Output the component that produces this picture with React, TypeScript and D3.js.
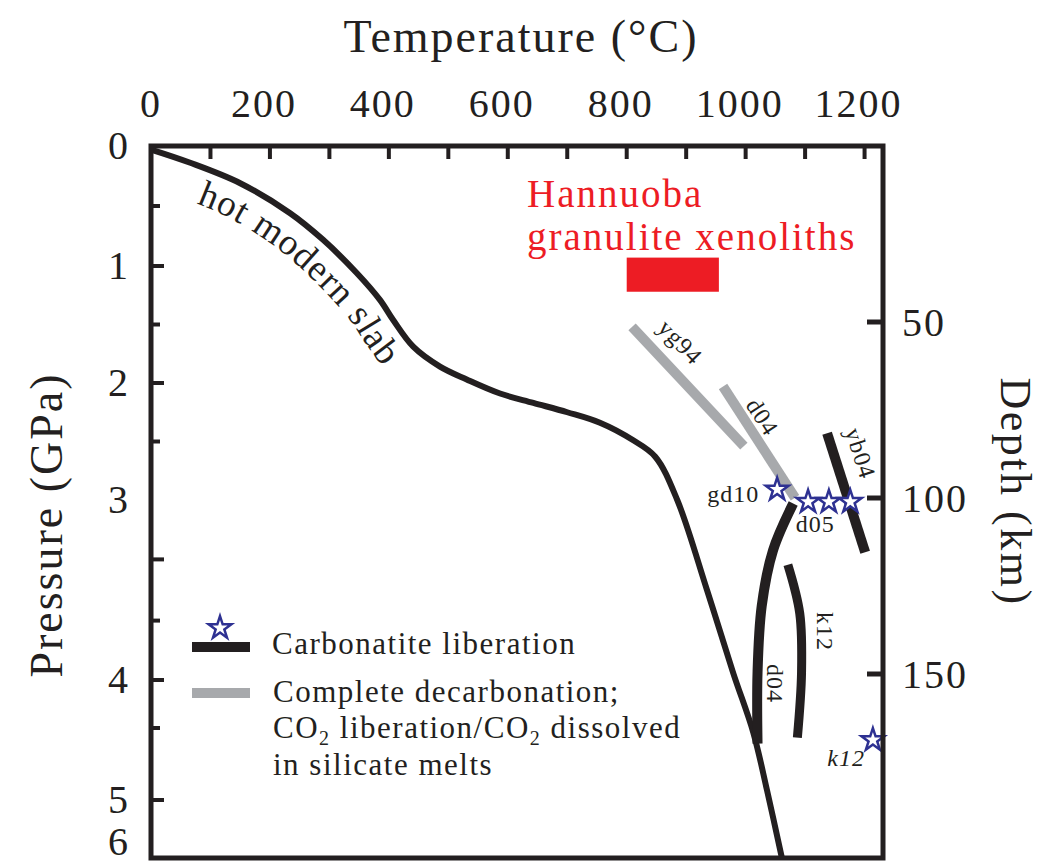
import React from "react";
import * as d3 from "d3";

// ---------- data ----------
const tempLabels = [0, 200, 400, 600, 800, 1000, 1200];
const tempTicks = [100, 200, 300, 400, 500, 600, 700, 800, 900, 1000, 1100, 1200];
const pressureLabels = [0, 1, 2, 3, 4, 5, 6];
const pressureMajor = [1, 2, 3.33, 4, 5];
const pressureMinor = [0.5, 1.5, 2.5, 3.67, 4.4];
const depthTicks = [50, 100, 150];

// [T (°C), P (GPa)]
const hotSlab: [number, number][] = [
  [0, 0.03], [66, 0.14], [150, 0.31], [234, 0.56], [289, 0.78], [346, 1.06],
  [385, 1.29], [407, 1.46], [441, 1.69], [486, 1.86], [531, 1.97], [587, 2.09],
  [643, 2.17], [700, 2.25], [755, 2.34], [811, 2.49], [848, 2.63], [885, 3.0],
  [935, 3.5], [979, 3.96], [1013, 4.44], [1036, 4.92], [1061, 6.0],
];
const yg94Gray: [number, number][] = [[809, 1.52], [997, 2.54]];
const d04Gray: [number, number][] = [[962, 2.03], [1083, 2.98]];
const yb04Black: [number, number][] = [[1137, 2.43], [1201, 3.29]];
const d04Black: [number, number][] = [[1080, 3.02], [1046, 3.28], [1027, 3.59], [1020, 3.96], [1020, 4.53]];
const k12Black: [number, number][] = [[1071, 3.36], [1091, 3.63], [1094, 3.96], [1087, 4.48]];
const starPoints: [number, number][] = [[1053, 2.91], [1105, 3.01], [1140, 3.01], [1176, 3.01], [1214, 4.5]];
const hannuobaT = [800, 955];
const hannuobaP = [0.93, 1.22];

// ---------- styles ----------
const BLACK = "#231F20";
const GRAY = "#A7A9AC";
const RED = "#ED1C24";
const BLUE = "#2E3192";
const FONT = "'Liberation Serif', 'Times New Roman', serif";

const L = 151, R = 883, TOP = 146, BOT = 858;

const x = d3.scaleLinear().domain([0, 1231]).range([L, R]);
const y = d3.scaleLinear().domain([0, 1, 2, 3, 4, 5, 6]).range([146, 266, 383, 500, 680, 800, 858]);
const yDepth = d3.scaleLinear().domain([0, 200]).range([146, 850]);

const curveLine = d3.line<[number, number]>().x(d => x(d[0])).y(d => y(d[1])).curve(d3.curveCatmullRom.alpha(0.5));
const straight = d3.line<[number, number]>().x(d => x(d[0])).y(d => y(d[1]));

// offset path for the slab label (below-left of the curve)
function offsetPath(pts: [number, number][], d: number) {
  const px = pts.map(p => [x(p[0]), y(p[1])] as [number, number]);
  const out: [number, number][] = px.map((p, i) => {
    const a = px[Math.max(0, i - 1)], b = px[Math.min(px.length - 1, i + 1)];
    const dx = b[0] - a[0], dy = b[1] - a[1];
    const len = Math.hypot(dx, dy) || 1;
    const nx = -dy / len, ny = dx / len;
    return [p[0] + nx * d, p[1] + ny * d];
  });
  return d3.line().curve(d3.curveCatmullRom.alpha(0.5))(out) || "";
}

const star = d3.symbol().type(d3.symbolStar).size(160)();

function Txt(props: any) {
  const { x: tx, y: ty, size, ls = 0, anchor = "start", rotate = 0, fill = BLACK, italic = false, baseline, children } = props;
  return (
    <text
      transform={`translate(${tx},${ty}) rotate(${rotate})`}
      fontFamily={FONT}
      fontSize={size}
      letterSpacing={ls}
      textAnchor={anchor}
      fill={fill}
      fontStyle={italic ? "italic" : "normal"}
      dominantBaseline={baseline}
    >
      {children}
    </text>
  );
}

export default function App() {
  const slabLabelPath = offsetPath(hotSlab.slice(0, 12), 36);
  return (
    <svg width={1042} height={864} style={{ position: "absolute", left: 0, top: 0, background: "#fff" }}>
      <rect width={1042} height={864} fill="#fff" />
      {/* titles */}
      <Txt x={521} y={52} size={46} ls={2} anchor="middle">Temperature (°C)</Txt>
      <Txt x={62} y={525} size={46} ls={2} anchor="middle" rotate={-90}>Pressure (GPa)</Txt>
      <Txt x={1001} y={492} size={44} ls={2.5} anchor="middle" rotate={90}>Depth (km)</Txt>

      {/* top tick labels */}
      {tempLabels.map(t => (
        <Txt key={t} x={x(t) + (t === 0 ? 0 : -6)} y={117} size={40} ls={2} anchor="middle">{t}</Txt>
      ))}
      {/* left tick labels */}
      {pressureLabels.map(p => (
        <Txt key={p} x={128} y={p === 6 ? 855 : y(p) + 13} size={40} anchor="end">{p}</Txt>
      ))}
      {/* right tick labels */}
      {depthTicks.map(d => (
        <Txt key={d} x={902} y={yDepth(d) + 14} size={40} ls={2}>{d}</Txt>
      ))}

      {/* ticks */}
      {tempTicks.map(t => (
        <line key={t} x1={x(t)} x2={x(t)} y1={TOP} y2={TOP + 13} stroke={BLACK} strokeWidth={4} />
      ))}
      {pressureMajor.map(p => (
        <line key={p} x1={L} x2={L + 13} y1={y(p)} y2={y(p)} stroke={BLACK} strokeWidth={4} />
      ))}
      {pressureMinor.map(p => (
        <line key={p} x1={L} x2={L + 9} y1={y(p)} y2={y(p)} stroke={BLACK} strokeWidth={4} />
      ))}
      {depthTicks.map(d => (
        <line key={d} x1={R - 16} x2={R} y1={yDepth(d)} y2={yDepth(d)} stroke={BLACK} strokeWidth={5} />
      ))}

      {/* Hannuoba */}
      <Txt x={527} y={207} size={39} ls={2} fill={RED}>Hannuoba</Txt>
      <Txt x={527} y={250} size={39} ls={2} fill={RED}>granulite xenoliths</Txt>
      <rect x={x(hannuobaT[0])} y={y(hannuobaP[0])} width={x(hannuobaT[1]) - x(hannuobaT[0])}
        height={y(hannuobaP[1]) - y(hannuobaP[0])} fill={RED} />

      {/* hot modern slab */}
      <path d={curveLine(hotSlab) || ""} fill="none" stroke={BLACK} strokeWidth={6} />
      <path id="slabLabel" d={slabLabelPath} fill="none" stroke="none" />
      <text fontFamily={FONT} fontSize={37} letterSpacing={1} fill={BLACK}>
        <textPath href="#slabLabel" startOffset={60}>hot modern slab</textPath>
      </text>

      {/* gray decarbonation lines */}
      <path d={straight(yg94Gray) || ""} stroke={GRAY} strokeWidth={10} fill="none" />
      <path d={straight(d04Gray) || ""} stroke={GRAY} strokeWidth={10} fill="none" />

      {/* black carbonatite lines */}
      <path d={straight(yb04Black) || ""} stroke={BLACK} strokeWidth={10} fill="none" />
      <path d={curveLine(d04Black) || ""} stroke={BLACK} strokeWidth={10} fill="none" />
      <path d={curveLine(k12Black) || ""} stroke={BLACK} strokeWidth={9} fill="none" />

      {/* stars */}
      {starPoints.map((s, i) => (
        <path key={i} d={star || ""} transform={`translate(${x(s[0])},${y(s[1])})`} fill="#fff" stroke={BLUE} strokeWidth={2.5} />
      ))}

      {/* line labels */}
      <Txt x={x(890)} y={y(1.65)} size={24} ls={1} anchor="middle" rotate={46} baseline="central">yg94</Txt>
      <Txt x={x(1028)} y={y(2.29)} size={24} ls={1} anchor="middle" rotate={57} baseline="central">d04</Txt>
      <Txt x={x(1193)} y={y(2.6)} size={24} ls={1} anchor="middle" rotate={72} baseline="central">yb04</Txt>
      <Txt x={x(1023)} y={y(3.01)} size={24} ls={1} anchor="end">gd10</Txt>
      <Txt x={x(1117)} y={y(3.18)} size={24} ls={1} anchor="middle">d05</Txt>
      <Txt x={x(1134)} y={y(3.73)} size={24} ls={1} anchor="middle" rotate={90} baseline="central">k12</Txt>
      <Txt x={x(1050)} y={y(4.03)} size={24} ls={1} anchor="middle" rotate={90} baseline="central">d04</Txt>
      <Txt x={x(1169)} y={y(4.72)} size={24} ls={1} anchor="middle" italic>k12</Txt>

      {/* legend */}
      <path d={star || ""} transform="translate(220,628)" fill="#fff" stroke={BLUE} strokeWidth={2.5} />
      <line x1={192} x2={250} y1={647} y2={647} stroke={BLACK} strokeWidth={10} />
      <line x1={192} x2={250} y1={693} y2={693} stroke={GRAY} strokeWidth={10} />
      <Txt x={272} y={654} size={31} ls={1.5}>Carbonatite liberation</Txt>
      <Txt x={273} y={702} size={31} ls={1.5}>Complete decarbonation;</Txt>
      <text x={273} y={738} fontFamily={FONT} fontSize={31} letterSpacing={1.5} fill={BLACK}>
        CO<tspan fontSize={20} dy={7}>2</tspan><tspan dy={-7}> liberation/CO</tspan><tspan fontSize={20} dy={7}>2</tspan><tspan dy={-7}> dissolved</tspan>
      </text>
      <Txt x={273} y={775} size={31} ls={1.5}>in silicate melts</Txt>

      {/* frame */}
      <rect x={L} y={TOP} width={R - L} height={BOT - TOP} fill="none" stroke={BLACK} strokeWidth={5} />
    </svg>
  );
}
